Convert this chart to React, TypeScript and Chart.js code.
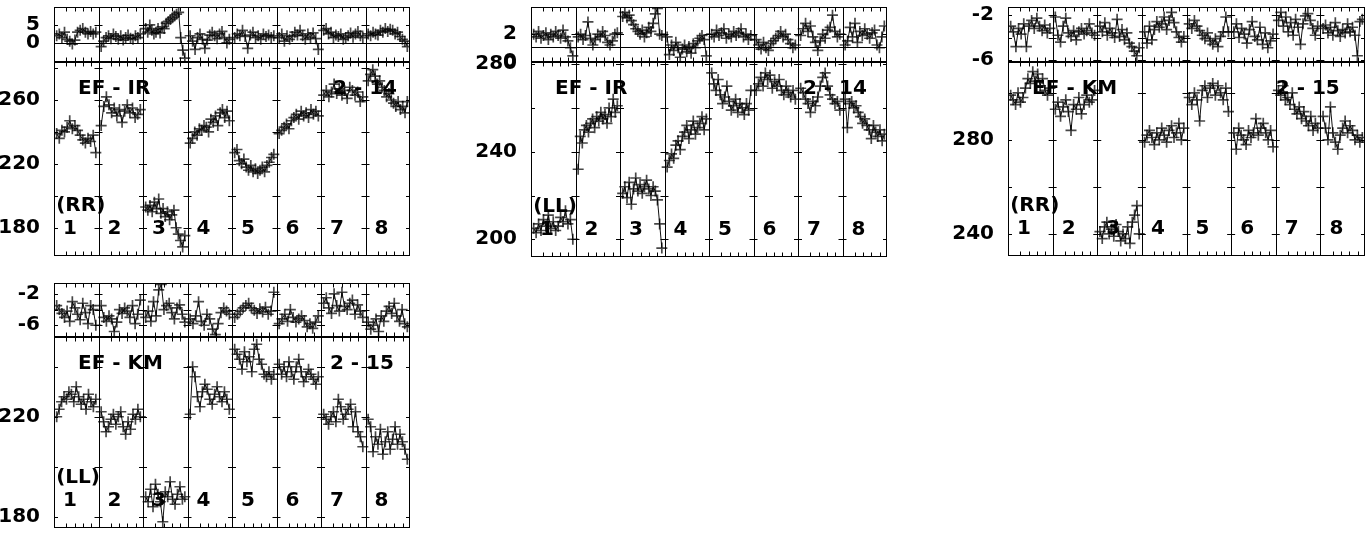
import React, { useEffect, useRef } from "react";
import { Chart, registerables } from "chart.js";
Chart.register(...registerables);

// ---------- labels ----------
const SEGMENT_LABELS = ["1", "2", "3", "4", "5", "6", "7", "8"];
const BASELINE_LABELS = ["EF - IR", "EF - IR", "EF - KM", "EF - KM"];
const SCAN_LABELS = ["2 - 14", "2 - 14", "2 - 15", "2 - 15"];
const POL_LABELS = ["(RR)", "(LL)", "(RR)", "(LL)"];

// ---------- tick values ----------
const P1_PHS_TICKS = [0, 5];
const P1_AMP_TICKS = [180, 200, 220, 240, 260, 280];
const P1_AMP_LABELED = [180, 220, 260];
const P2_PHS_TICKS = [0, 2];
const P2_AMP_TICKS = [200, 220, 240, 260, 280];
const P2_AMP_LABELED = [200, 240, 280];
const P3_PHS_TICKS = [-6, -4, -2];
const P3_PHS_LABELED = [-6, -2];
const P3_AMP_TICKS = [240, 260, 280, 300];
const P3_AMP_LABELED = [240, 280];
const P4_PHS_TICKS = [-6, -4, -2];
const P4_PHS_LABELED = [-6, -2];
const P4_AMP_TICKS = [180, 200, 220, 240];
const P4_AMP_LABELED = [180, 220];

// ---------- data: EF - IR (RR) ----------
const P1_PHS = [
  [2, 2.5, 1.5, 3, 1, 0.5, -0.3, 0.8, 3, 3.5, 4, 3, 2.5, 3.2, 2.5, 3],
  [-1, 0.5, 1.5, 2, 1.2, 2.5, 1.8, 1, 2, 0.8, 1.5, 2.2, 1.3, 1, 2, 1.5, 2.5],
  [4, 3, 5, 3.5, 2.5, 3, 4, 2.8, 4.5, 4, 5.5, 6, 6.5, 7, 7.5, 8, 8.5, 1.5, -2, -4.2],
  [2, 0.5, -1.8, 1.5, 2.5, 1, -1.5, 0.8, 2.2, 3, 2, 1.2, 2.5, 3.2, 1.5, 0, 1],
  [1.5, 2.5, 2, 3.5, 1.8, -1.5, 2.2, 3, 1.5, 2, 1, 2.5, 1.8, 2.2, 1.5, 2],
  [1.5, 2.5, 0.5, 2, 1, 1.8, 3, 2.2, 3.5, 2, 1, 2.5, 1.5, 2.8, 1.2, -1.8],
  [3.5, 4, 2.5, 3, 1.5, 2.2, 1.8, 2.5, 1, 1.5, 2, 2.8, 1.6, 2.5, 3.2, 2, 1.5],
  [2.5, 2, 3, 2.5, 2.2, 3.5, 3, 4, 3.2, 3.8, 3.5, 2.5, 3, 1.8, 1, 0.5, -1],
];
const P1_AMP = [
  [239, 236, 241, 240, 243, 247, 242, 244, 241, 238, 235, 233, 236, 234, 238, 227],
  [244, 256, 262, 257, 252, 255, 250, 254, 246, 253, 257, 252, 255, 249, 251, 254],
  [193, 191, 194, 190, 196, 192, 198, 189, 192, 187, 190, 185, 188, 191, 180, 176, 172, 168, 175],
  [233, 236, 240, 238, 242, 241, 244, 243, 240, 248, 246, 250, 244, 252, 254, 249, 253, 247],
  [227, 229, 222, 220, 223, 218, 216, 219, 215, 217, 214, 216, 218, 215, 219, 221, 224, 226],
  [239, 241, 243, 245, 242, 247, 249, 251, 248, 253, 250, 252, 249, 254, 251, 253, 250],
  [263, 266, 262, 265, 270, 264, 267, 263, 266, 261, 268, 266, 263, 265, 259, 262],
  [272, 276, 279, 275, 270, 272, 268, 266, 262, 264, 260, 258, 256, 259, 254, 256, 252, 259],
];

// ---------- data: EF - IR (LL) ----------
const P2_PHS = [
  [2, 1.8, 2.2, 1.7, 1.9, 2.1, 1.6, 2, 1.8, 2.2, 1.9, 1.7, 2.3, 1.8, 1.5, 1, 0.4],
  [1.8, 2, 1.6, 1.9, 2.9, 1.7, 1.2, 1.6, 2, 1.8, 2.2, 1.9, 1.4, 1.2, 1.5, 2, 2.1],
  [3.3, 3.6, 3.2, 3.4, 3, 2.7, 2.4, 2.2, 2, 2.3, 1.8, 2.1, 2.5, 2.2, 2.8, 3.5, 3.9, 2, 1.9],
  [1.8, 0.5, 1.2, 0.8, 1.4, 1, 0.3, 0.9, 1.2, 0.7, 1.1, 0.6, 1.3, 1, 1.5, 1.7, 1.9, 1.6, 0.4],
  [2, 1.8, 2.3, 1.9, 2.1, 2.4, 1.7, 2, 1.8, 2.2, 1.9, 2.1, 2.4, 1.8, 2, 1.6, 1.9],
  [1.6, 1.2, 0.9, 1.4, 1, 0.8, 1.3, 1.5, 1.7, 1.9, 2.2, 1.8, 2, 1.6, 1.3, 1, 1.2],
  [1.9, 2.4, 2.8, 2.2, 2.6, 1.8, 1.4, 0.8, 1.5, 2, 1.7, 2.3, 2.5, 3.4, 2.2, 1.8, 2],
  [1.2, 1.5, 2.5, 1.8, 2.8, 1.4, 2.2, 1.9, 2.4, 2, 1.7, 2.1, 2.3, 1.2, 1, 1.8, 2.6],
];
const P2_AMP = [
  [205, 203, 207, 204, 209, 206, 211, 205, 208, 204, 206, 210, 208, 213, 207, 209, 200],
  [232, 247, 244, 250, 252, 249, 253, 255, 251, 256, 254, 258, 255, 257, 253, 260, 256, 264, 258, 261],
  [221, 224, 219, 226, 216, 223, 228, 222, 225, 221, 224, 227, 223, 220, 224, 222, 218, 207, 196],
  [233, 236, 239, 237, 243, 245, 241, 247, 249, 252, 246, 250, 254, 248, 251, 253, 256, 250, 255],
  [276, 271, 268, 273, 266, 262, 265, 270, 263, 259, 261, 264, 258, 262, 260, 257, 262, 259, 268],
  [268, 271, 274, 270, 276, 273, 275, 269, 272, 270, 273, 268, 266, 270, 267, 265, 268, 264],
  [269, 267, 264, 262, 258, 263, 261, 265, 270, 274, 276, 270, 266, 264, 262, 263, 259],
  [264, 251, 262, 263, 260, 261, 258, 256, 253, 255, 252, 250, 246, 252, 249, 247, 250, 245, 248],
];

// ---------- data: EF - KM (RR) ----------
const P3_PHS = [
  [-3, -3.5, -4.8, -3.2, -3.7, -2.8, -4.8, -3, -2.5, -3.2, -2.3, -3, -3.4, -2.9, -3.6, -3.2],
  [-2.2, -3.8, -4.4, -3, -2.3, -3.6, -3.9, -3.4, -4.2, -3.5, -3.2, -3.7, -3.4, -2.8, -3.6, -3.8],
  [-3, -3.5, -2.7, -3.8, -3.2, -3.6, -4, -2.4, -3.9, -3.3, -4.2, -3.6, -4.5, -4.8, -5.2, -5.6, -4.9],
  [-3.5, -4.5, -3, -4.2, -3.3, -2.6, -3.1, -2.8, -2.2, -3.3, -2.5, -1.8, -2.7, -3.5, -4, -4.4, -3.9],
  [-2.8, -3.2, -2.5, -3, -3.4, -3.8, -4.1, -3.6, -4.3, -4.6, -4.1, -4.8, -3.9, -3.5, -2.2, -3.5],
  [-3.5, -2.8, -4, -3.2, -3.7, -4.5, -3.3, -2.6, -3.9, -4.2, -3.1, -4.6, -3.6, -4.9, -4.3, -3.7],
  [-2.5, -1.8, -3, -2.2, -3.5, -2.7, -3.8, -2.4, -3.1, -4.6, -2.8, -2.1, -1.9, -2.5, -3.2, -3.8, -3],
  [-3.2, -2.9, -3.6, -3.1, -3.8, -2.7, -3.4, -3.9, -3.3, -3.6, -2.8, -3.5, -3.1, -3.8, -5.6, -2.6, -2.4],
];
const P3_AMP = [
  [299, 297, 295, 300, 296, 298, 302, 306, 304, 309, 305, 308, 303, 306, 301, 299, 302],
  [293, 296, 290, 294, 297, 292, 284, 295, 293, 298, 291, 295, 299, 296, 297, 301],
  [241, 238, 243, 245, 240, 242, 239, 244, 241, 237, 240, 238, 243, 236, 245, 248, 252, 240],
  [279, 282, 284, 281, 278, 283, 280, 285, 282, 279, 284, 286, 281, 283, 287, 280, 285],
  [298, 295, 300, 297, 288, 301, 303, 298, 302, 304, 299, 303, 300, 297, 302, 292],
  [283, 276, 285, 282, 280, 278, 284, 281, 283, 289, 282, 285, 287, 283, 280, 284, 277],
  [301, 299, 303, 297, 298, 295, 300, 293, 291, 294, 289, 292, 288, 286, 290, 284, 287, 285],
  [290, 285, 280, 294, 283, 279, 276, 282, 285, 288, 283, 286, 284, 280, 282, 279, 281],
];

// ---------- data: EF - KM (LL) ----------
const P4_PHS = [
  [-3.5, -4, -4.5, -5, -4.2, -5.5, -3, -3.8, -4.6, -5.3, -3.2, -4.4, -5.8, -3.5, -4, -6],
  [-3.5, -5, -5.5, -4.8, -5.2, -6.8, -5.6, -4, -4.5, -3.8, -4.2, -5, -3.5, -5.8, -4.6, -2.8],
  [-5, -4.2, -5.5, -3, -4.8, -1.5, -0.8, -4, -3.5, -3.2, -4.4, -5.2, -3.8, -3.4, -4.6, -5.6],
  [-5.2, -5.8, -4.8, -3, -5.5, -6, -4.6, -5.2, -6.5, -7.2, -5.8, -4.4, -3.8, -4.2, -4.6],
  [-5, -4.6, -4.2, -3.8, -3.5, -3.2, -3.8, -4.1, -4.5, -3.9, -4.3, -3.7, -4.6, -4.2, -1.8],
  [-5.8, -5.2, -4.6, -5.5, -4, -5, -5.6, -5.2, -4.8, -5.4, -6.2, -5.8, -6.4, -5.6, -4.8],
  [-3.2, -2.5, -3.8, -4.5, -2, -3.5, -4.2, -1.8, -3.6, -4, -3.2, -2.8, -4.6, -3.4, -4.2, -5],
  [-5.6, -6.5, -6, -5.2, -6.8, -4.8, -5.5, -4.2, -3.6, -4.5, -3.2, -4.8, -5.5, -4, -5.8, -6.2],
];
const P4_AMP = [
  [220, 223, 226, 228, 227, 230, 229, 226, 232, 228, 225, 227, 223, 229, 226, 224, 227],
  [222, 218, 214, 216, 219, 221, 217, 220, 222, 216, 213, 218, 215, 221, 219, 223, 220],
  [188, 186, 191, 184, 193, 189, 186, 178, 190, 188, 194, 187, 185, 189, 192, 187, 188],
  [221, 240, 236, 228, 224, 230, 233, 231, 227, 225, 229, 232, 228, 226, 230, 227, 223],
  [247, 245, 243, 239, 246, 242, 244, 238, 247, 249, 243, 241, 237, 236, 238, 235, 237],
  [241, 237, 240, 236, 242, 238, 235, 240, 243, 238, 234, 236, 239, 237, 235, 233, 236],
  [221, 219, 217, 220, 222, 218, 227, 224, 219, 221, 223, 225, 216, 222, 214, 212, 208],
  [219, 216, 206, 212, 209, 215, 205, 210, 214, 207, 211, 216, 209, 213, 210, 207, 203],
];

// ---------- layout ----------
type Sub = {
  left: number; right: number; top: number; bottom: number;
  min: number; max: number;
  ticks: number[]; labeled: number[];
  data: number[][];
  refLine?: number;
  annot?: number; // index into label arrays (lower panels)
  scanX?: number;
};

const SUBS: Sub[] = [
  { left: 54, right: 410, top: 7, bottom: 62, min: -5.3, max: 10, ticks: P1_PHS_TICKS, labeled: P1_PHS_TICKS, data: P1_PHS, refLine: 0 },
  { left: 54, right: 410, top: 62, bottom: 256, min: 162.3, max: 283.8, ticks: P1_AMP_TICKS, labeled: P1_AMP_LABELED, data: P1_AMP, annot: 0, scanX: 6.27 },
  { left: 531, right: 887, top: 7, bottom: 62, min: -0.05, max: 4.0, ticks: P2_PHS_TICKS, labeled: P2_PHS_TICKS, data: P2_PHS, refLine: 1.07 },
  { left: 531, right: 887, top: 62, bottom: 257, min: 191.9, max: 281, ticks: P2_AMP_TICKS, labeled: P2_AMP_LABELED, data: P2_AMP, annot: 1, scanX: 6.11 },
  { left: 1008, right: 1365, top: 7, bottom: 62, min: -6.15, max: -1.32, ticks: P3_PHS_TICKS, labeled: P3_PHS_LABELED, data: P3_PHS },
  { left: 1008, right: 1365, top: 62, bottom: 256, min: 230.6, max: 313.1, ticks: P3_AMP_TICKS, labeled: P3_AMP_LABELED, data: P3_AMP, annot: 2, scanX: 6.0 },
  { left: 54, right: 410, top: 283, bottom: 337, min: -7.5, max: -0.62, ticks: P4_PHS_TICKS, labeled: P4_PHS_LABELED, data: P4_PHS },
  { left: 54, right: 410, top: 337, bottom: 528, min: 175.5, max: 251.9, ticks: P4_AMP_TICKS, labeled: P4_AMP_LABELED, data: P4_AMP, annot: 3, scanX: 6.2 },
];

const AXW = 60;
const PADR = 6;
const PADV = 24;
const FONT = "DejaVu Sans";
const MINOR = [0.28, 0.47, 0.65, 0.84];

function SubPlot({ cfg }: { cfg: Sub }) {
  const ref = useRef<HTMLCanvasElement>(null);
  const W = cfg.right - cfg.left + AXW + PADR;
  const H = cfg.bottom - cfg.top + 2 * PADV;

  useEffect(() => {
    const datasets = cfg.data.map((seg, s) => ({
      data: seg.map((v, j) => ({
        x: s + 0.06 + 0.88 * (seg.length > 1 ? j / (seg.length - 1) : 0.5),
        y: v,
      })),
      showLine: true,
      borderColor: "#111",
      borderWidth: 1,
      pointStyle: "cross" as const,
      pointRadius: 5.5,
      pointHoverRadius: 5.5,
      pointBorderWidth: 1.7,
      pointBorderColor: "rgba(0,0,0,0.72)",
      pointBackgroundColor: "#222",
      tension: 0,
      fill: false,
    }));

    const line = (ctx: CanvasRenderingContext2D, x1: number, y1: number, x2: number, y2: number) => {
      ctx.beginPath();
      ctx.moveTo(x1, y1);
      ctx.lineTo(x2, y2);
      ctx.stroke();
    };

    const framePlugin = {
      id: "frame",
      beforeDatasetsDraw(chart: any) {
        if (cfg.annot === undefined) return;
        const { ctx, chartArea, scales } = chart;
        const { top, bottom } = chartArea;
        const x = scales.x;
        ctx.save();
        ctx.fillStyle = "#000";
        ctx.font = `bold 20px "${FONT}"`;
        ctx.textBaseline = "middle";
        ctx.textAlign = "left";
        ctx.fillText(BASELINE_LABELS[cfg.annot], x.getPixelForValue(0.54), top + 27);
        ctx.fillText(SCAN_LABELS[cfg.annot], x.getPixelForValue(cfg.scanX ?? 6.2), top + 27);
        ctx.fillText(POL_LABELS[cfg.annot], x.getPixelForValue(0.05), bottom - 50);
        ctx.textAlign = "center";
        SEGMENT_LABELS.forEach((lab, i) => {
          ctx.fillText(lab, x.getPixelForValue(i + 0.36), bottom - 27);
        });
        ctx.restore();
      },
      afterDatasetsDraw(chart: any) {
        const { ctx, chartArea, scales } = chart;
        const { left, right, top, bottom } = chartArea;
        const x = scales.x;
        const y = scales.y;
        ctx.save();
        ctx.strokeStyle = "#000";
        ctx.lineWidth = 1;
        const T = Math.round(top) + 0.5;
        const B = Math.round(bottom) - 0.5;
        if (cfg.refLine !== undefined) {
          const py = Math.round(y.getPixelForValue(cfg.refLine)) + 0.5;
          line(ctx, left, py, right, py);
        }
        for (let i = 0; i <= 8; i++) {
          const px = Math.round(x.getPixelForValue(i)) + (i === 8 ? -0.5 : 0.5);
          line(ctx, px, T, px, B);
        }
        line(ctx, left, T, right, T);
        line(ctx, left, B, right, B);
        // minor time ticks
        for (let s = 0; s < 8; s++) {
          for (const f of MINOR) {
            const px = Math.round(x.getPixelForValue(s + f)) + 0.5;
            line(ctx, px, T, px, T + 4);
            line(ctx, px, B - 4, px, B);
          }
        }
        // value ticks at every divider
        for (const t of y.ticks) {
          const py = Math.round(y.getPixelForValue(t.value)) + 0.5;
          for (let i = 0; i <= 8; i++) {
            const px = x.getPixelForValue(i);
            line(ctx, i === 0 ? px : px - 4, py, i === 8 ? px : px + 4, py);
          }
        }
        ctx.restore();
      },
    };

    const chart = new Chart(ref.current!, {
      type: "scatter",
      data: { datasets },
      options: {
        animation: false,
        responsive: false,
        events: [],
        layout: { autoPadding: false, padding: { left: 0, right: PADR, top: PADV, bottom: PADV } },
        plugins: { legend: { display: false }, tooltip: { enabled: false } },
        scales: {
          x: { type: "linear", min: 0, max: 8, display: false },
          y: {
            type: "linear",
            position: "left",
            min: cfg.min,
            max: cfg.max,
            grid: { display: false },
            border: { display: false },
            afterBuildTicks: (scale: any) => {
              scale.ticks = cfg.ticks.map((v) => ({ value: v }));
            },
            afterFit: (scale: any) => {
              scale.width = AXW;
            },
            ticks: {
              autoSkip: false,
              color: "#000",
              padding: 6,
              font: { family: FONT, weight: "bold", size: 20 },
              callback: (v: any) => (cfg.labeled.includes(Number(v)) ? String(v) : ""),
            },
          },
        },
      } as any,
      plugins: [framePlugin],
    });
    return () => chart.destroy();
  }, [cfg]);

  return (
    <canvas
      ref={ref}
      width={W}
      height={H}
      style={{
        position: "absolute",
        left: cfg.left - AXW,
        top: cfg.top - PADV,
        width: W,
        height: H,
      }}
    />
  );
}

export default function App() {
  return (
    <div
      style={{
        position: "absolute",
        left: 0,
        top: 0,
        width: 1371,
        height: 534,
        overflow: "hidden",
        background: "#fff",
      }}
    >
      {SUBS.map((c, i) => (
        <SubPlot key={i} cfg={c} />
      ))}
    </div>
  );
}
